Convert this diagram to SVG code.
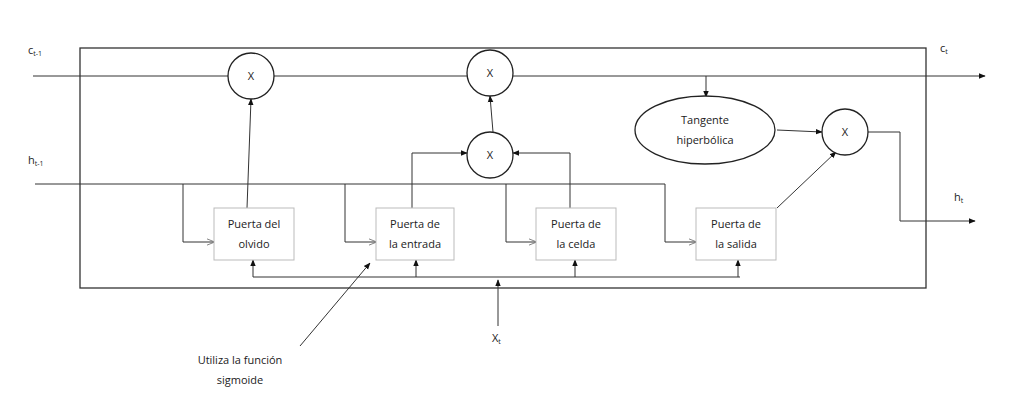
<svg xmlns="http://www.w3.org/2000/svg" width="1024" height="401" viewBox="0 0 1024 401">
<style>
text{font-family:"Open Sans","Liberation Sans",sans-serif;font-size:11px;fill:#222}
.c{text-anchor:middle}
.l{fill:none;stroke:#333;stroke-width:1}
.g{fill:#fff;stroke:#bbb;stroke-width:1}
.n{fill:#fff;stroke:#222;stroke-width:1.3}
</style>
<defs>
<marker id="a" viewBox="0 0 10 10" refX="9" refY="5" markerWidth="7" markerHeight="7" orient="auto"><path d="M0,1L10,5L0,9z" fill="#111"/></marker>
<marker id="o" viewBox="0 0 10 10" refX="9" refY="5" markerWidth="8" markerHeight="8" orient="auto"><path d="M0,1L10,5L0,9" fill="none" stroke="#666"/></marker>
</defs>
<rect x="80" y="48" width="846" height="240" fill="none" stroke="#333" stroke-width="1.3"/>
<g id="connectors">
<path class="l" d="M33,76H228M274,76H467"/>
<path class="l" d="M513,76H985" marker-end="url(#a)"/>
<path class="l" d="M706,76V97" marker-end="url(#a)"/>
<path class="l" d="M35,184H665"/>
<path class="l" stroke="#666" d="M183,184V242H214" marker-end="url(#o)"/>
<path class="l" stroke="#666" d="M345,184V242H376" marker-end="url(#o)"/>
<path class="l" stroke="#666" d="M506,184V242H536" marker-end="url(#o)"/>
<path class="l" stroke="#666" d="M665,184V242H696" marker-end="url(#o)"/>
<path class="l" d="M412,208V153H467" marker-end="url(#a)"/>
<path class="l" d="M570,208V153H513" marker-end="url(#a)"/>
<path class="l" d="M493,132L490,96" marker-end="url(#a)"/>
<path class="l" d="M247,208L251,99" marker-end="url(#a)"/>
<path class="l" d="M777,208L836,152" marker-end="url(#a)"/>
<path class="l" d="M777,130L822,132" marker-end="url(#a)"/>
<path class="l" d="M868,132H900V221H975" marker-end="url(#a)"/>
<path class="l" d="M253,277H740"/>
<path class="l" d="M253,277V260" marker-end="url(#a)"/>
<path class="l" d="M416,277V260" marker-end="url(#a)"/>
<path class="l" d="M575,277V260" marker-end="url(#a)"/>
<path class="l" d="M738,277V260" marker-end="url(#a)"/>
<path class="l" d="M498,326V280" marker-end="url(#a)"/>
<path class="l" d="M300,346L370,263" marker-end="url(#a)"/>
</g>
<g id="x1"><circle class="n" cx="251" cy="76" r="23"/><text class="c" x="251" y="80">X</text></g>
<g id="x2"><circle class="n" cx="490" cy="73" r="23"/><text class="c" x="490" y="77">X</text></g>
<g id="x3"><circle class="n" cx="490" cy="155" r="23"/><text class="c" x="490" y="159">X</text></g>
<g id="x4"><circle class="n" cx="845" cy="132" r="23"/><text class="c" x="845" y="136">X</text></g>
<g id="tanh"><ellipse class="n" cx="705" cy="130" rx="70" ry="34"/><text class="c" x="705" y="124">Tangente</text><text class="c" x="705" y="144">hiperbólica</text></g>
<g id="olvido"><rect class="g" x="214" y="208" width="80" height="52"/><text class="c" x="254" y="228">Puerta del</text><text class="c" x="254" y="248">olvido</text></g>
<g id="entrada"><rect class="g" x="376" y="208" width="78" height="52"/><text class="c" x="415" y="228">Puerta de</text><text class="c" x="415" y="248">la entrada</text></g>
<g id="celda"><rect class="g" x="536" y="208" width="80" height="52"/><text class="c" x="576" y="228">Puerta de</text><text class="c" x="576" y="248">la celda</text></g>
<g id="salida"><rect class="g" x="696" y="208" width="80" height="52"/><text class="c" x="736" y="228">Puerta de</text><text class="c" x="736" y="248">la salida</text></g>
<g id="labels">
<text x="28" y="54">c<tspan font-size="7" dy="2">t-1</tspan></text>
<text x="28" y="164">h<tspan font-size="7" dy="2">t-1</tspan></text>
<text x="940" y="52">c<tspan font-size="7" dy="2">t</tspan></text>
<text x="954" y="201">h<tspan font-size="7" dy="2">t</tspan></text>
<text x="492" y="342">X<tspan font-size="7" dy="2">t</tspan></text>
<text class="c" x="240" y="364">Utiliza la función</text>
<text class="c" x="240" y="384">sigmoide</text>
</g>
</svg>
